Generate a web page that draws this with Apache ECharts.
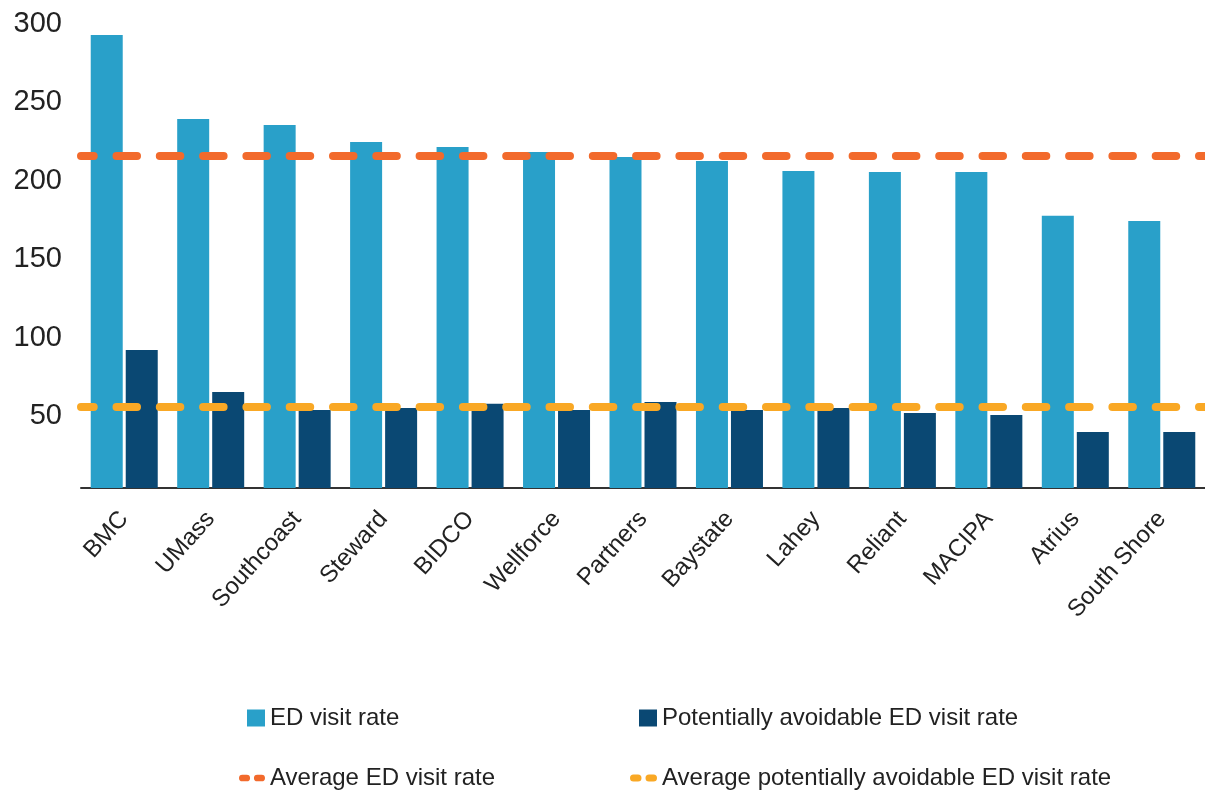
<!DOCTYPE html>
<html>
<head>
<meta charset="utf-8">
<script src="https://cdn.jsdelivr.net/npm/echarts@6/dist/echarts.min.js"></script>
<style>
html,body{margin:0;padding:0;background:#fff;}
#chart{width:1205px;height:790px;}
</style>
</head>
<body>
<div id="chart"></div>
<script>
var categories = ['BMC','UMass','Southcoast','Steward','BIDCO','Wellforce','Partners','Baystate','Lahey','Reliant','MACIPA','Atrius','South Shore'];
var edVisitRate = [293.0, 239.4, 235.6, 224.7, 221.6, 218.4, 215.2, 212.6, 206.3, 205.6, 205.6, 177.6, 174.4];
var avoidableRate = [92.1, 65.3, 53.8, 55.1, 57.7, 53.8, 58.9, 53.8, 55.1, 51.9, 50.6, 39.8, 39.8];
var avgEdVisitRate = 215.8;
var avgAvoidableRate = 55.9;
var yTickLabels = [50, 100, 150, 200, 250, 300];

var FONT = '"Liberation Sans", Arial, sans-serif';
var TXT = '#222222';
var dotsIcon = 'path://M3.5,0 H8 A3.5,3.5 0 0 1 8,7 H3.5 A3.5,3.5 0 0 1 3.5,0 Z M19,0 H23.5 A3.5,3.5 0 0 1 23.5,7 H19 A3.5,3.5 0 0 1 19,0 Z';

function legendAt(name, left, top, w, h, icon) {
  var l = {
    data: [name], left: left, top: top, orient: 'horizontal', padding: 0,
    itemWidth: w, itemHeight: h, selectedMode: false,
    textStyle: { fontFamily: FONT, fontSize: 24, color: TXT, lineHeight: 26 }
  };
  if (icon) l.icon = icon;
  return l;
}

var chart = echarts.init(document.getElementById('chart'), null, { renderer: 'canvas' });
chart.setOption({
  animation: false,
  backgroundColor: '#ffffff',
  legend: [
    legendAt('ED visit rate', 247, 705, 18, 17, 'rect'),
    legendAt('Potentially avoidable ED visit rate', 639, 705, 18, 17, 'rect'),
    legendAt('Average ED visit rate', 239, 765, 26, 7, dotsIcon),
    legendAt('Average potentially avoidable ED visit rate', 630, 765, 27, 7, dotsIcon)
  ],
  grid: { left: 81, top: 24, width: 1131, height: 464, containLabel: false },
  xAxis: {
    type: 'category',
    data: categories,
    axisTick: { show: false },
    axisLine: { lineStyle: { color: '#333333', width: 2 } },
    axisLabel: { rotate: 48, interval: 0, margin: 27, fontFamily: FONT, fontSize: 24, color: TXT }
  },
  yAxis: {
    type: 'value',
    min: 4,
    max: 300,
    splitLine: { show: false },
    axisLine: { show: false },
    axisTick: { show: false },
    axisLabel: { customValues: yTickLabels, margin: 19, fontFamily: FONT, fontSize: 29, color: TXT }
  },
  series: [
    {
      name: 'ED visit rate', type: 'bar', data: edVisitRate,
      barWidth: 32, barGap: '9.4%',
      itemStyle: { color: '#29A0C9' }
    },
    {
      name: 'Potentially avoidable ED visit rate', type: 'bar', data: avoidableRate,
      barWidth: 32, barGap: '9.4%',
      itemStyle: { color: '#0A4873' }
    },
    {
      name: 'Average ED visit rate', type: 'line', data: [],
      itemStyle: { color: '#F26A2C' }, lineStyle: { color: '#F26A2C' },
      markLine: {
        silent: true, symbol: ['none', 'none'], animation: false,
        label: { show: false },
        lineStyle: { color: '#F26A2C', width: 8, type: [20.5, 22.8], dashOffset: 7.8, cap: 'round' },
        data: [{ yAxis: avgEdVisitRate }]
      }
    },
    {
      name: 'Average potentially avoidable ED visit rate', type: 'line', data: [],
      itemStyle: { color: '#F9A825' }, lineStyle: { color: '#F9A825' },
      markLine: {
        silent: true, symbol: ['none', 'none'], animation: false,
        label: { show: false },
        lineStyle: { color: '#F9A825', width: 8, type: [20.5, 22.8], dashOffset: 7.8, cap: 'round' },
        data: [{ yAxis: avgAvoidableRate }]
      }
    }
  ]
});
</script>
</body>
</html>
